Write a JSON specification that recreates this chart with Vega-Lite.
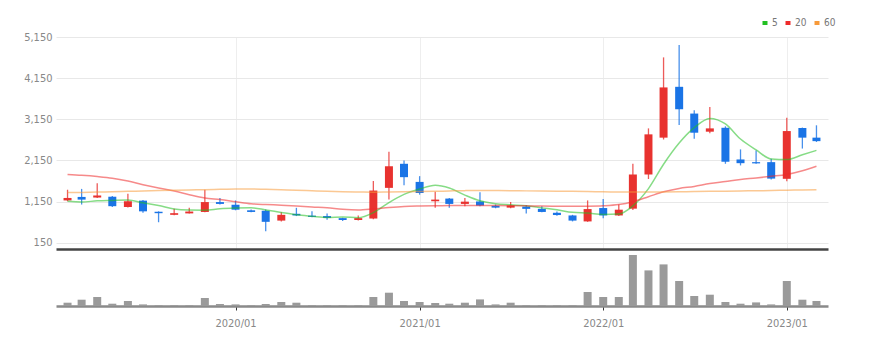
{
  "$schema": "https://vega.github.io/schema/vega-lite/v6.json",
  "background": "white",
  "padding": {"left": 23, "top": 18, "right": 5, "bottom": 3},
  "config": {
    "font": "Liberation Sans Narrow, DejaVu Sans Condensed, Liberation Sans, sans-serif",
    "view": {"stroke": null},
    "concat": {"spacing": 0}
  },
  "spacing": 0,
  "resolve": {"scale": {"y": "independent", "x": "shared"}},
  "data": {"values": [
    {"date": "2019-02-01", "open": 1180, "high": 1440, "low": 1160, "close": 1240, "volume": 33000, "5": 1157, "20": 1810, "60": 1370},
    {"date": "2019-03-01", "open": 1265, "high": 1460, "low": 1080, "close": 1200, "volume": 63000, "5": 1142, "20": 1790, "60": 1375},
    {"date": "2019-04-01", "open": 1250, "high": 1600, "low": 1240, "close": 1300, "volume": 90000, "5": 1170, "20": 1760, "60": 1385},
    {"date": "2019-05-01", "open": 1270, "high": 1290, "low": 1020, "close": 1040, "volume": 23000, "5": 1180, "20": 1720, "60": 1390},
    {"date": "2019-06-01", "open": 1020, "high": 1340, "low": 1010, "close": 1160, "volume": 50000, "5": 1188, "20": 1650, "60": 1400},
    {"date": "2019-07-01", "open": 1175, "high": 1190, "low": 880, "close": 915, "volume": 16000, "5": 1123, "20": 1560, "60": 1410},
    {"date": "2019-08-01", "open": 905, "high": 915, "low": 650, "close": 870, "volume": 7000, "5": 1057, "20": 1480, "60": 1420},
    {"date": "2019-09-01", "open": 830, "high": 980, "low": 820, "close": 870, "volume": 7000, "5": 971, "20": 1410, "60": 1428},
    {"date": "2019-10-01", "open": 865, "high": 1000, "low": 860, "close": 910, "volume": 7000, "5": 945, "20": 1320, "60": 1435},
    {"date": "2019-11-01", "open": 900, "high": 1440, "low": 890, "close": 1140, "volume": 80000, "5": 941, "20": 1240, "60": 1440},
    {"date": "2019-12-01", "open": 1140, "high": 1240, "low": 1080, "close": 1095, "volume": 20000, "5": 977, "20": 1200, "60": 1450},
    {"date": "2020-01-01", "open": 1075, "high": 1180, "low": 940, "close": 955, "volume": 16000, "5": 994, "20": 1150, "60": 1458},
    {"date": "2020-02-01", "open": 940, "high": 960, "low": 890, "close": 900, "volume": 7000, "5": 1000, "20": 1100, "60": 1460},
    {"date": "2020-03-01", "open": 930, "high": 960, "low": 430, "close": 660, "volume": 20000, "5": 950, "20": 1080, "60": 1450},
    {"date": "2020-04-01", "open": 690, "high": 890, "low": 670, "close": 830, "volume": 40000, "5": 888, "20": 1065, "60": 1440},
    {"date": "2020-05-01", "open": 855, "high": 1000, "low": 800, "close": 815, "volume": 33000, "5": 832, "20": 1045, "60": 1430},
    {"date": "2020-06-01", "open": 810, "high": 915, "low": 770, "close": 780, "volume": 7000, "5": 797, "20": 1020, "60": 1415},
    {"date": "2020-07-01", "open": 800, "high": 860, "low": 710, "close": 755, "volume": 7000, "5": 768, "20": 1000, "60": 1400},
    {"date": "2020-08-01", "open": 750, "high": 760, "low": 680, "close": 705, "volume": 7000, "5": 777, "20": 965, "60": 1390},
    {"date": "2020-09-01", "open": 705, "high": 815, "low": 695, "close": 750, "volume": 7000, "5": 761, "20": 950, "60": 1385},
    {"date": "2020-10-01", "open": 740, "high": 1650, "low": 720, "close": 1420, "volume": 90000, "5": 882, "20": 975, "60": 1380},
    {"date": "2020-11-01", "open": 1485, "high": 2360, "low": 1200, "close": 2010, "volume": 133000, "5": 1128, "20": 1010, "60": 1385},
    {"date": "2020-12-01", "open": 2070, "high": 2150, "low": 1550, "close": 1745, "volume": 50000, "5": 1326, "20": 1035, "60": 1390},
    {"date": "2021-01-01", "open": 1630, "high": 1770, "low": 1320, "close": 1360, "volume": 40000, "5": 1457, "20": 1045, "60": 1395},
    {"date": "2021-02-01", "open": 1160, "high": 1390, "low": 1000, "close": 1200, "volume": 30000, "5": 1547, "20": 1050, "60": 1400},
    {"date": "2021-03-01", "open": 1225, "high": 1240, "low": 1000, "close": 1095, "volume": 23000, "5": 1482, "20": 1055, "60": 1410},
    {"date": "2021-04-01", "open": 1095, "high": 1240, "low": 1040, "close": 1150, "volume": 33000, "5": 1310, "20": 1058, "60": 1418},
    {"date": "2021-05-01", "open": 1155, "high": 1380, "low": 1040, "close": 1055, "volume": 66000, "5": 1172, "20": 1058, "60": 1422},
    {"date": "2021-06-01", "open": 1050, "high": 1080, "low": 990, "close": 1005, "volume": 16000, "5": 1101, "20": 1055, "60": 1420},
    {"date": "2021-07-01", "open": 1005, "high": 1140, "low": 990, "close": 1060, "volume": 33000, "5": 1073, "20": 1052, "60": 1416},
    {"date": "2021-08-01", "open": 1030, "high": 1060, "low": 860, "close": 975, "volume": 7000, "5": 1049, "20": 1048, "60": 1412},
    {"date": "2021-09-01", "open": 975, "high": 1040, "low": 890, "close": 900, "volume": 7000, "5": 999, "20": 1045, "60": 1408},
    {"date": "2021-10-01", "open": 880, "high": 910, "low": 810, "close": 825, "volume": 7000, "5": 953, "20": 1040, "60": 1405},
    {"date": "2021-11-01", "open": 815, "high": 830, "low": 670, "close": 690, "volume": 7000, "5": 890, "20": 1038, "60": 1400},
    {"date": "2021-12-01", "open": 670, "high": 1180, "low": 660, "close": 970, "volume": 140000, "5": 872, "20": 1040, "60": 1395},
    {"date": "2022-01-01", "open": 995, "high": 1215, "low": 750, "close": 815, "volume": 90000, "5": 840, "20": 1050, "60": 1390},
    {"date": "2022-02-01", "open": 815, "high": 1080, "low": 800, "close": 955, "volume": 90000, "5": 851, "20": 1080, "60": 1385},
    {"date": "2022-03-01", "open": 980, "high": 2070, "low": 950, "close": 1810, "volume": 510000, "5": 1048, "20": 1150, "60": 1382},
    {"date": "2022-04-01", "open": 1810, "high": 2930, "low": 1700, "close": 2785, "volume": 356000, "5": 1467, "20": 1270, "60": 1382},
    {"date": "2022-05-01", "open": 2705, "high": 4655, "low": 2660, "close": 3925, "volume": 416000, "5": 2058, "20": 1390, "60": 1385},
    {"date": "2022-06-01", "open": 3940, "high": 4955, "low": 3010, "close": 3395, "volume": 250000, "5": 2574, "20": 1470, "60": 1390},
    {"date": "2022-07-01", "open": 3290, "high": 3370, "low": 2680, "close": 2825, "volume": 100000, "5": 2948, "20": 1520, "60": 1395},
    {"date": "2022-08-01", "open": 2850, "high": 3450, "low": 2810, "close": 2930, "volume": 113000, "5": 3172, "20": 1590, "60": 1400},
    {"date": "2022-09-01", "open": 2945, "high": 2980, "low": 2070, "close": 2120, "volume": 40000, "5": 3039, "20": 1640, "60": 1405},
    {"date": "2022-10-01", "open": 2175, "high": 2420, "low": 2030, "close": 2085, "volume": 23000, "5": 2671, "20": 1690, "60": 1410},
    {"date": "2022-11-01", "open": 2110, "high": 2395, "low": 2070, "close": 2080, "volume": 36000, "5": 2408, "20": 1725, "60": 1415},
    {"date": "2022-12-01", "open": 2110, "high": 2190, "low": 1690, "close": 1710, "volume": 16000, "5": 2185, "20": 1765, "60": 1420},
    {"date": "2023-01-01", "open": 1705, "high": 3190, "low": 1645, "close": 2865, "volume": 250000, "5": 2172, "20": 1810, "60": 1428},
    {"date": "2023-02-01", "open": 2940, "high": 2950, "low": 2440, "close": 2705, "volume": 63000, "5": 2289, "20": 1900, "60": 1435},
    {"date": "2023-03-01", "open": 2705, "high": 3005, "low": 2600, "close": 2620, "volume": 50000, "5": 2396, "20": 2010, "60": 1442}
  ]},
  "vconcat": [
    {
      "width": 772,
      "height": 212,
      "encoding": {
        "x": {
          "field": "date", "type": "temporal",
          "scale": {"type": "utc", "domain": ["2019-01-19", "2023-03-14"]},
          "axis": {
            "title": null, "labels": false, "ticks": false,
            "values": ["2020-01-01", "2021-01-01", "2022-01-01", "2023-01-01"],
            "domainColor": "#444", "domainWidth": 2.5,
            "grid": true, "gridColor": "#eeeeee", "gridWidth": 1
          }
        }
      },
      "layer": [
        {
          "mark": {"type": "rule", "strokeWidth": 1.3, "opacity": 0.8},
          "encoding": {
            "y": {
              "field": "low", "type": "quantitative",
              "scale": {"domain": [0, 5150], "nice": false, "zero": false},
              "axis": {
                "title": null, "values": [150, 1150, 2150, 3150, 4150, 5150], "format": ",d",
                "domain": false, "ticks": false, "labelColor": "#888888", "labelFontSize": 11,
                "labelPadding": 4, "gridColor": "#e8e8e8", "gridWidth": 1
              }
            },
            "y2": {"field": "high"},
            "color": {"condition": {"test": "datum.close >= datum.open", "value": "#e8322f"}, "value": "#1a74e6"}
          }
        },
        {
          "mark": {"type": "bar", "size": 8},
          "encoding": {
            "y": {"field": "open", "type": "quantitative"},
            "y2": {"field": "close"},
            "color": {"condition": {"test": "datum.close >= datum.open", "value": "#e8322f"}, "value": "#1a74e6"}
          }
        },
        {
          "transform": [{"fold": ["5", "20", "60"], "as": ["ma", "val"]}],
          "mark": {"type": "line", "interpolate": "monotone", "strokeWidth": 1.5, "opacity": 0.55},
          "encoding": {
            "y": {"field": "val", "type": "quantitative"},
            "color": {
              "field": "ma", "type": "nominal",
              "scale": {"domain": ["5", "20", "60"], "range": ["#22c022", "#ee2a2a", "#f79a3a"]},
              "legend": {
                "title": null, "orient": "none", "legendX": 704, "legendY": -19,
                "direction": "horizontal",
                "symbolType": "M0,-2L0,2", "symbolSize": 4, "symbolStrokeWidth": 5,
                "symbolOpacity": 1, "labelFontSize": 10, "labelColor": "#777777",
                "labelOffset": 2, "columnPadding": 0, "symbolOffset": 0
              }
            }
          }
        }
      ]
    },
    {
      "width": 772,
      "height": 57,
      "mark": {"type": "bar", "size": 8, "color": "#9a9a9a"},
      "encoding": {
        "x": {
          "field": "date", "type": "temporal",
          "axis": {
            "title": null, "format": "%Y/%m",
            "values": ["2020-01-01", "2021-01-01", "2022-01-01", "2023-01-01"],
            "domainColor": "#8a8a8a", "domainWidth": 2.5, "tickColor": "#333333", "tickSize": 4,
            "grid": false, "labelColor": "#888888", "labelFontSize": 11, "labelPadding": 7
          }
        },
        "y": {
          "field": "volume", "type": "quantitative",
          "scale": {"domain": [0, 570000], "nice": false},
          "axis": null
        }
      }
    }
  ]
}
